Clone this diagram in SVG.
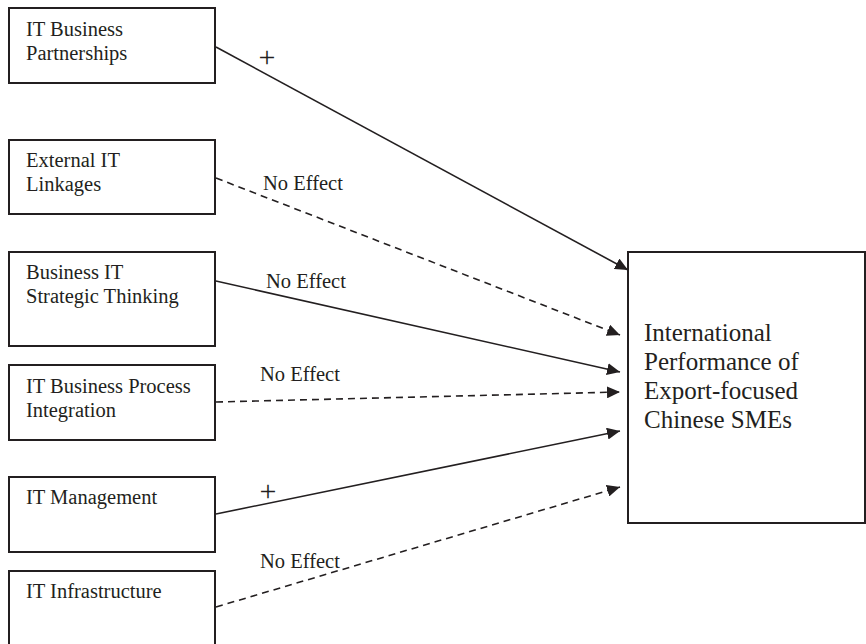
<svg xmlns="http://www.w3.org/2000/svg" width="866" height="644" viewBox="0 0 866 644">
<style>
.box{fill:#fff;stroke:#231f20;stroke-width:2}
.ln{fill:none;stroke:#231f20;stroke-width:1.6}
.dash{stroke-dasharray:7 5}
</style>
<defs>
<marker id="ah" markerUnits="userSpaceOnUse" markerWidth="14" markerHeight="12" refX="13" refY="6" orient="auto">
<path d="M0,0 L13,6 L0,12 z" fill="#231f20" stroke="none"/>
</marker>
</defs>
<rect width="866" height="644" fill="#fff"/>
<g id="connectors">
<line class="ln" x1="216" y1="47" x2="628" y2="270" marker-end="url(#ah)"/>
<line class="ln dash" x1="216" y1="178" x2="620" y2="335" marker-end="url(#ah)"/>
<line class="ln" x1="207" y1="279" x2="620" y2="372" marker-end="url(#ah)"/>
<line class="ln dash" x1="216" y1="402" x2="620" y2="392" marker-end="url(#ah)"/>
<line class="ln" x1="216" y1="514" x2="620" y2="431" marker-end="url(#ah)"/>
<line class="ln dash" x1="216" y1="607" x2="620" y2="487" marker-end="url(#ah)"/>
<g font-family="Liberation Serif, DejaVu Serif, serif" fill="#231f20">
<text font-size="30" text-anchor="middle" x="267" y="67">+</text>
<text font-size="20.5" x="263" y="190">No Effect</text>
<text font-size="20.5" x="266" y="288">No Effect</text>
<text font-size="20.5" x="260" y="381">No Effect</text>
<text font-size="30" text-anchor="middle" x="268" y="501">+</text>
<text font-size="20.5" x="260" y="568">No Effect</text>
</g>
</g>
<g font-family="Liberation Serif, DejaVu Serif, serif" font-size="20.5" fill="#231f20">
<g id="n1"><rect class="box" x="9" y="8" width="206" height="75"/>
<text x="26" y="36">IT Business</text><text x="26" y="60">Partnerships</text></g>
<g id="n2"><rect class="box" x="9" y="140" width="206" height="74"/>
<text x="26" y="167">External IT</text><text x="26" y="191">Linkages</text></g>
<g id="n3"><rect class="box" x="9" y="252" width="206" height="94"/>
<text x="26" y="279">Business IT</text><text x="26" y="303">Strategic Thinking</text></g>
<g id="n4"><rect class="box" x="9" y="365" width="206" height="75"/>
<text x="26" y="393">IT Business Process</text><text x="26" y="417">Integration</text></g>
<g id="n5"><rect class="box" x="9" y="477" width="206" height="75"/>
<text x="26" y="504">IT Management</text></g>
<g id="n6"><rect class="box" x="9" y="571" width="206" height="80"/>
<text x="26" y="598">IT Infrastructure</text></g>
<g id="target" font-size="25"><rect class="box" x="628" y="252" width="237" height="271"/>
<text x="644" y="341">International</text>
<text x="644" y="370">Performance of</text>
<text x="644" y="399">Export-focused</text>
<text x="644" y="428">Chinese SMEs</text></g>
</g>
</svg>
